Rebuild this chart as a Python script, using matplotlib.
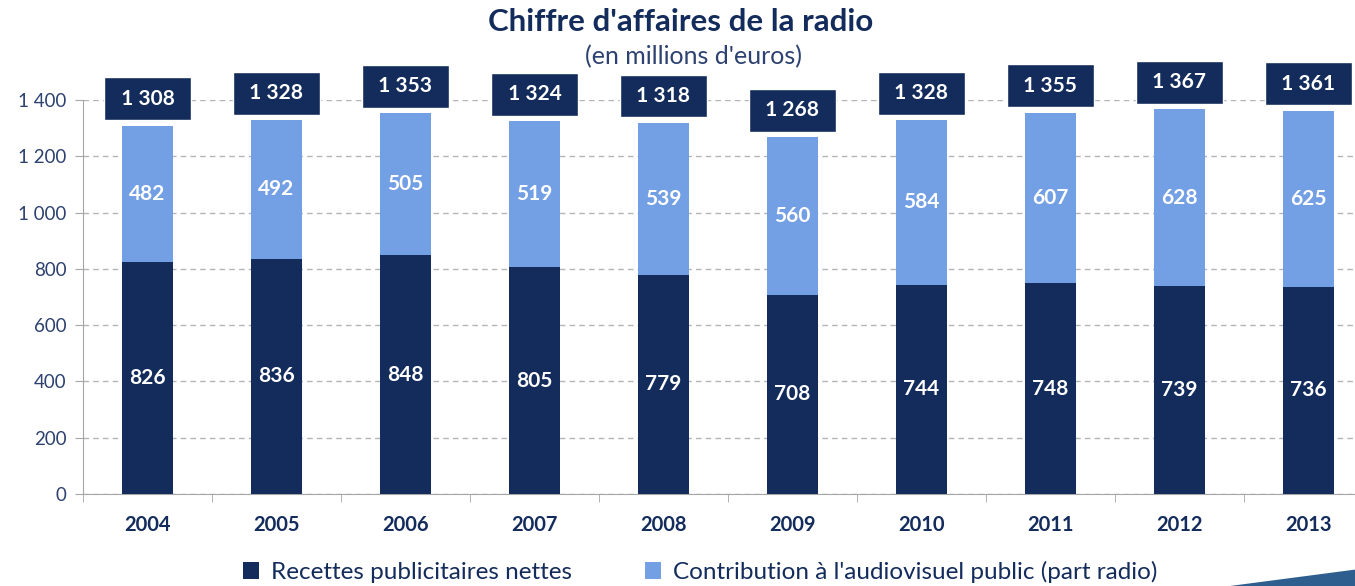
import numpy as np
import matplotlib.pyplot as plt
from matplotlib.patches import Polygon

# Data (en millions d'euros)
years = ["2004", "2005", "2006", "2007", "2008", "2009", "2010", "2011", "2012", "2013"]
recettes = [826, 836, 848, 805, 779, 708, 744, 748, 739, 736]
contribution = [482, 492, 505, 519, 539, 560, 584, 607, 628, 625]
totals = [1308, 1328, 1353, 1324, 1318, 1268, 1328, 1355, 1367, 1361]
yticks = [0, 200, 400, 600, 800, 1000, 1200, 1400]

navy = "#132c5c"
light = "#739fe4"
txt = "#2d4270"

plt.rcParams['font.family'] = ['Lato', 'DejaVu Sans']


def fmt(v):
    # french thousands separator
    return "{:,}".format(v).replace(",", " ")


fig = plt.figure(figsize=(13.55, 5.86), dpi=100)
ax = fig.add_axes([83 / 1355, 92 / 586, 1290 / 1355, 394 / 586])

x = np.arange(len(years))
w = 0.39
ax.bar(x, recettes, w, color=navy, label="Recettes publicitaires nettes", zorder=3)
ax.bar(x, contribution, w, bottom=recettes, color=light,
       label="Contribution à l'audiovisuel public (part radio)", zorder=3)

for i in range(len(years)):
    ax.text(x[i], recettes[i] / 2, str(recettes[i]), ha="center", va="center",
            color="white", fontsize=15, fontweight="bold", zorder=4)
    ax.text(x[i], recettes[i] + contribution[i] / 2, str(contribution[i]), ha="center",
            va="center", color="white", fontsize=15, fontweight="bold", zorder=4)
    ax.annotate(" " + fmt(totals[i]) + " ", (x[i], totals[i]), xytext=(0, 19.5),
                textcoords="offset points", ha="center", va="center", color="white",
                fontsize=15, fontweight="bold", annotation_clip=False, zorder=5,
                bbox=dict(boxstyle="square,pad=0.55", fc=navy, ec="white", lw=1))

ax.set_xlim(-0.5, len(years) - 0.5)
ax.set_ylim(0, 1400)
ax.set_yticks(yticks)
ax.set_yticklabels([fmt(v) for v in yticks], color=txt, fontsize=13.5)
ax.yaxis.grid(True, linestyle=(0, (4, 3)), color="#b5b5b5", lw=1, zorder=0)
ax.tick_params(axis="y", length=6, color="#a6a6a6", pad=6)

ax.set_xticks(x)
ax.set_xticklabels(years, fontsize=14.5, fontweight="bold", color=navy)
ax.set_xticks(np.arange(len(years) + 1) - 0.5, minor=True)
ax.tick_params(axis="x", which="major", length=0, pad=15)
ax.tick_params(axis="x", which="minor", length=6, color="#a6a6a6", direction="out")

for s in ["top", "right"]:
    ax.spines[s].set_visible(False)
for s in ["left", "bottom"]:
    ax.spines[s].set_color("#a6a6a6")

fig.text(0.502, 0.962, "Chiffre d'affaires de la radio", ha="center", va="center",
         fontsize=22.5, fontweight="bold", color=navy)
fig.text(0.512, 0.903, "(en millions d'euros)", ha="center", va="center",
         fontsize=18, color=txt)

fig.legend(loc="center", bbox_to_anchor=(0.517, 0.024), ncol=2, frameon=False,
           fontsize=17.5, handlelength=0.65, handleheight=0.65, handletextpad=0.5,
           columnspacing=3.0, labelcolor=navy)

# decorative swoosh, bottom right
fig.patches.append(Polygon([(1230 / 1355, 0), (1355 / 1355, 0.028), (1355 / 1355, 0)],
                           closed=True, transform=fig.transFigure, fc="#2e5e8e", ec="none"))

fig.savefig("out.png", dpi=100)
